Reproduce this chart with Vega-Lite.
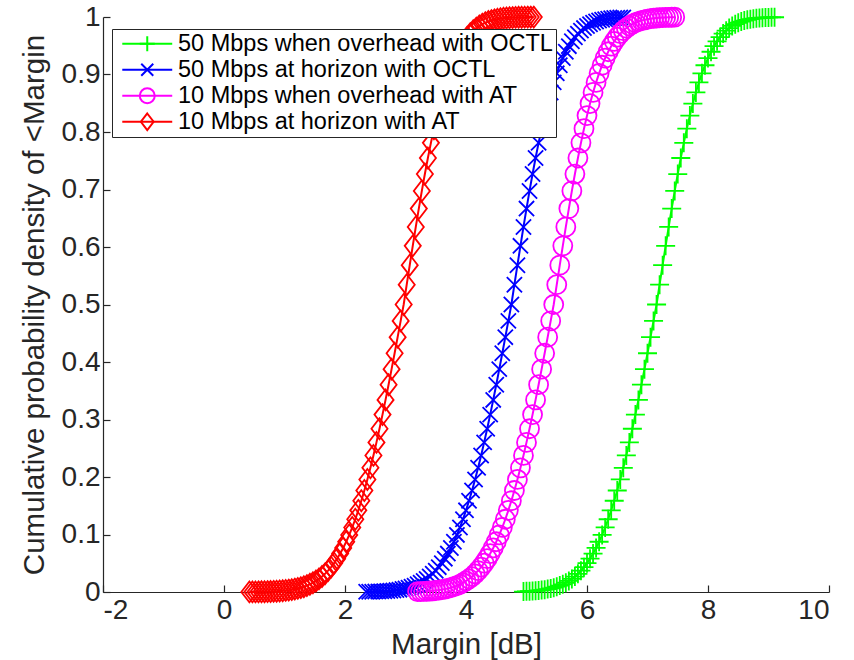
{
"$schema":"https://vega.github.io/schema/vega-lite/v6.json",
"width":726,"height":575,
"autosize":"none",
"padding":{"left":103,"top":17,"right":25,"bottom":68},
"background":"white",
"config":{
 "view":{"stroke":null},
 "axis":{"domainColor":"#262626","tickColor":"#262626","labelColor":"#262626","titleColor":"#262626","labelFont":"Liberation Sans","titleFont":"Liberation Sans","labelFontSize":28,"titleFontSize":29.5,"titleFontWeight":"normal","grid":false,"tickSize":-7,"domainWidth":1.2,"tickWidth":1.2}
},
"data":{"values":[
{"s":"g","x":4.95,"y":0.0008},{"s":"g","x":5.0,"y":0.0011},{"s":"g","x":5.05,"y":0.0013},{"s":"g","x":5.1,"y":0.0017},{"s":"g","x":5.15,"y":0.0021},{"s":"g","x":5.2,"y":0.0027},{"s":"g","x":5.25,"y":0.0033},{"s":"g","x":5.3,"y":0.0041},{"s":"g","x":5.35,"y":0.0051},{"s":"g","x":5.4,"y":0.0062},{"s":"g","x":5.45,"y":0.0076},{"s":"g","x":5.5,"y":0.0092},{"s":"g","x":5.55,"y":0.0111},{"s":"g","x":5.6,"y":0.0134},{"s":"g","x":5.65,"y":0.0161},{"s":"g","x":5.7,"y":0.0192},{"s":"g","x":5.75,"y":0.0228},{"s":"g","x":5.8,"y":0.0269},{"s":"g","x":5.85,"y":0.0316},{"s":"g","x":5.9,"y":0.0371},{"s":"g","x":5.95,"y":0.0432},{"s":"g","x":6.0,"y":0.0502},{"s":"g","x":6.05,"y":0.058},{"s":"g","x":6.1,"y":0.0668},{"s":"g","x":6.15,"y":0.0766},{"s":"g","x":6.2,"y":0.0874},{"s":"g","x":6.25,"y":0.0993},{"s":"g","x":6.3,"y":0.1123},{"s":"g","x":6.35,"y":0.1265},{"s":"g","x":6.4,"y":0.142},{"s":"g","x":6.45,"y":0.1587},{"s":"g","x":6.5,"y":0.1765},{"s":"g","x":6.55,"y":0.1957},{"s":"g","x":6.6,"y":0.216},{"s":"g","x":6.65,"y":0.2375},{"s":"g","x":6.7,"y":0.2602},{"s":"g","x":6.75,"y":0.2839},{"s":"g","x":6.8,"y":0.3085},{"s":"g","x":6.85,"y":0.3341},{"s":"g","x":6.9,"y":0.3605},{"s":"g","x":6.95,"y":0.3876},{"s":"g","x":7.0,"y":0.4152},{"s":"g","x":7.05,"y":0.4432},{"s":"g","x":7.1,"y":0.4715},{"s":"g","x":7.15,"y":0.5},{"s":"g","x":7.2,"y":0.5344},{"s":"g","x":7.25,"y":0.5684},{"s":"g","x":7.3,"y":0.602},{"s":"g","x":7.35,"y":0.6349},{"s":"g","x":7.4,"y":0.6668},{"s":"g","x":7.45,"y":0.6975},{"s":"g","x":7.5,"y":0.7269},{"s":"g","x":7.55,"y":0.7548},{"s":"g","x":7.6,"y":0.7811},{"s":"g","x":7.65,"y":0.8057},{"s":"g","x":7.7,"y":0.8285},{"s":"g","x":7.75,"y":0.8495},{"s":"g","x":7.8,"y":0.8688},{"s":"g","x":7.85,"y":0.8863},{"s":"g","x":7.9,"y":0.902},{"s":"g","x":7.95,"y":0.9161},{"s":"g","x":8.0,"y":0.9286},{"s":"g","x":8.05,"y":0.9396},{"s":"g","x":8.1,"y":0.9493},{"s":"g","x":8.15,"y":0.9577},{"s":"g","x":8.2,"y":0.9649},{"s":"g","x":8.25,"y":0.9711},{"s":"g","x":8.3,"y":0.9763},{"s":"g","x":8.35,"y":0.9807},{"s":"g","x":8.4,"y":0.9844},{"s":"g","x":8.45,"y":0.9875},{"s":"g","x":8.5,"y":0.99},{"s":"g","x":8.55,"y":0.9921},{"s":"g","x":8.6,"y":0.9938},{"s":"g","x":8.65,"y":0.9951},{"s":"g","x":8.7,"y":0.9962},{"s":"g","x":8.75,"y":0.9971},{"s":"g","x":8.8,"y":0.9978},{"s":"g","x":8.85,"y":0.9983},{"s":"g","x":8.9,"y":0.9987},{"s":"g","x":8.95,"y":0.999},{"s":"g","x":9.0,"y":0.9993},{"s":"g","x":9.05,"y":0.9995},{"s":"g","x":9.1,"y":0.9996},
{"s":"b","x":2.35,"y":0.0003},{"s":"b","x":2.4,"y":0.0004},{"s":"b","x":2.45,"y":0.0005},{"s":"b","x":2.5,"y":0.0007},{"s":"b","x":2.55,"y":0.0008},{"s":"b","x":2.6,"y":0.0011},{"s":"b","x":2.65,"y":0.0013},{"s":"b","x":2.7,"y":0.0017},{"s":"b","x":2.75,"y":0.0021},{"s":"b","x":2.8,"y":0.0027},{"s":"b","x":2.85,"y":0.0033},{"s":"b","x":2.9,"y":0.0041},{"s":"b","x":2.95,"y":0.0051},{"s":"b","x":3.0,"y":0.0062},{"s":"b","x":3.05,"y":0.0076},{"s":"b","x":3.1,"y":0.0092},{"s":"b","x":3.15,"y":0.0111},{"s":"b","x":3.2,"y":0.0134},{"s":"b","x":3.25,"y":0.0161},{"s":"b","x":3.3,"y":0.0192},{"s":"b","x":3.35,"y":0.0228},{"s":"b","x":3.4,"y":0.0269},{"s":"b","x":3.45,"y":0.0316},{"s":"b","x":3.5,"y":0.0371},{"s":"b","x":3.55,"y":0.0432},{"s":"b","x":3.6,"y":0.0502},{"s":"b","x":3.65,"y":0.058},{"s":"b","x":3.7,"y":0.0668},{"s":"b","x":3.75,"y":0.0766},{"s":"b","x":3.8,"y":0.0874},{"s":"b","x":3.85,"y":0.0993},{"s":"b","x":3.9,"y":0.1123},{"s":"b","x":3.95,"y":0.1265},{"s":"b","x":4.0,"y":0.142},{"s":"b","x":4.05,"y":0.1587},{"s":"b","x":4.1,"y":0.1765},{"s":"b","x":4.15,"y":0.1957},{"s":"b","x":4.2,"y":0.216},{"s":"b","x":4.25,"y":0.2375},{"s":"b","x":4.3,"y":0.2602},{"s":"b","x":4.35,"y":0.2839},{"s":"b","x":4.4,"y":0.3085},{"s":"b","x":4.45,"y":0.3341},{"s":"b","x":4.5,"y":0.3605},{"s":"b","x":4.55,"y":0.3876},{"s":"b","x":4.6,"y":0.4152},{"s":"b","x":4.65,"y":0.4432},{"s":"b","x":4.7,"y":0.4715},{"s":"b","x":4.75,"y":0.5},{"s":"b","x":4.8,"y":0.5344},{"s":"b","x":4.85,"y":0.5684},{"s":"b","x":4.9,"y":0.602},{"s":"b","x":4.95,"y":0.6349},{"s":"b","x":5.0,"y":0.6668},{"s":"b","x":5.05,"y":0.6975},{"s":"b","x":5.1,"y":0.7269},{"s":"b","x":5.15,"y":0.7548},{"s":"b","x":5.2,"y":0.7811},{"s":"b","x":5.25,"y":0.8057},{"s":"b","x":5.3,"y":0.8285},{"s":"b","x":5.35,"y":0.8495},{"s":"b","x":5.4,"y":0.8688},{"s":"b","x":5.45,"y":0.8863},{"s":"b","x":5.5,"y":0.902},{"s":"b","x":5.55,"y":0.9161},{"s":"b","x":5.6,"y":0.9286},{"s":"b","x":5.65,"y":0.9396},{"s":"b","x":5.7,"y":0.9493},{"s":"b","x":5.75,"y":0.9577},{"s":"b","x":5.8,"y":0.9649},{"s":"b","x":5.85,"y":0.9711},{"s":"b","x":5.9,"y":0.9763},{"s":"b","x":5.95,"y":0.9807},{"s":"b","x":6.0,"y":0.9844},{"s":"b","x":6.05,"y":0.9875},{"s":"b","x":6.1,"y":0.99},{"s":"b","x":6.15,"y":0.9921},{"s":"b","x":6.2,"y":0.9938},{"s":"b","x":6.25,"y":0.9951},{"s":"b","x":6.3,"y":0.9962},{"s":"b","x":6.35,"y":0.9971},{"s":"b","x":6.4,"y":0.9978},{"s":"b","x":6.45,"y":0.9983},{"s":"b","x":6.5,"y":0.9987},{"s":"b","x":6.55,"y":0.999},{"s":"b","x":6.6,"y":0.9993},
{"s":"m","x":3.2,"y":0.0007},{"s":"m","x":3.25,"y":0.0008},{"s":"m","x":3.3,"y":0.0011},{"s":"m","x":3.35,"y":0.0013},{"s":"m","x":3.4,"y":0.0017},{"s":"m","x":3.45,"y":0.0021},{"s":"m","x":3.5,"y":0.0027},{"s":"m","x":3.55,"y":0.0033},{"s":"m","x":3.6,"y":0.0041},{"s":"m","x":3.65,"y":0.0051},{"s":"m","x":3.7,"y":0.0062},{"s":"m","x":3.75,"y":0.0076},{"s":"m","x":3.8,"y":0.0092},{"s":"m","x":3.85,"y":0.0111},{"s":"m","x":3.9,"y":0.0134},{"s":"m","x":3.95,"y":0.0161},{"s":"m","x":4.0,"y":0.0192},{"s":"m","x":4.05,"y":0.0228},{"s":"m","x":4.1,"y":0.0269},{"s":"m","x":4.15,"y":0.0316},{"s":"m","x":4.2,"y":0.0371},{"s":"m","x":4.25,"y":0.0432},{"s":"m","x":4.3,"y":0.0502},{"s":"m","x":4.35,"y":0.058},{"s":"m","x":4.4,"y":0.0668},{"s":"m","x":4.45,"y":0.0766},{"s":"m","x":4.5,"y":0.0874},{"s":"m","x":4.55,"y":0.0993},{"s":"m","x":4.6,"y":0.1123},{"s":"m","x":4.65,"y":0.1265},{"s":"m","x":4.7,"y":0.142},{"s":"m","x":4.75,"y":0.1587},{"s":"m","x":4.8,"y":0.1765},{"s":"m","x":4.85,"y":0.1957},{"s":"m","x":4.9,"y":0.216},{"s":"m","x":4.95,"y":0.2375},{"s":"m","x":5.0,"y":0.2602},{"s":"m","x":5.05,"y":0.2839},{"s":"m","x":5.1,"y":0.3085},{"s":"m","x":5.15,"y":0.3341},{"s":"m","x":5.2,"y":0.3605},{"s":"m","x":5.25,"y":0.3876},{"s":"m","x":5.3,"y":0.4152},{"s":"m","x":5.35,"y":0.4432},{"s":"m","x":5.4,"y":0.4715},{"s":"m","x":5.45,"y":0.5},{"s":"m","x":5.5,"y":0.5344},{"s":"m","x":5.55,"y":0.5684},{"s":"m","x":5.6,"y":0.602},{"s":"m","x":5.65,"y":0.6349},{"s":"m","x":5.7,"y":0.6668},{"s":"m","x":5.75,"y":0.6975},{"s":"m","x":5.8,"y":0.7269},{"s":"m","x":5.85,"y":0.7548},{"s":"m","x":5.9,"y":0.7811},{"s":"m","x":5.95,"y":0.8057},{"s":"m","x":6.0,"y":0.8285},{"s":"m","x":6.05,"y":0.8495},{"s":"m","x":6.1,"y":0.8688},{"s":"m","x":6.15,"y":0.8863},{"s":"m","x":6.2,"y":0.902},{"s":"m","x":6.25,"y":0.9161},{"s":"m","x":6.3,"y":0.9286},{"s":"m","x":6.35,"y":0.9396},{"s":"m","x":6.4,"y":0.9493},{"s":"m","x":6.45,"y":0.9577},{"s":"m","x":6.5,"y":0.9649},{"s":"m","x":6.55,"y":0.9711},{"s":"m","x":6.6,"y":0.9763},{"s":"m","x":6.65,"y":0.9807},{"s":"m","x":6.7,"y":0.9844},{"s":"m","x":6.75,"y":0.9875},{"s":"m","x":6.8,"y":0.99},{"s":"m","x":6.85,"y":0.9921},{"s":"m","x":6.9,"y":0.9938},{"s":"m","x":6.95,"y":0.9951},{"s":"m","x":7.0,"y":0.9962},{"s":"m","x":7.05,"y":0.9971},{"s":"m","x":7.1,"y":0.9978},{"s":"m","x":7.15,"y":0.9983},{"s":"m","x":7.2,"y":0.9987},{"s":"m","x":7.25,"y":0.999},{"s":"m","x":7.3,"y":0.9993},{"s":"m","x":7.35,"y":0.9995},{"s":"m","x":7.4,"y":0.9996},{"s":"m","x":7.45,"y":0.9997},
{"s":"r","x":0.42,"y":0.0001},{"s":"r","x":0.47,"y":0.0002},{"s":"r","x":0.52,"y":0.0002},{"s":"r","x":0.57,"y":0.0003},{"s":"r","x":0.62,"y":0.0004},{"s":"r","x":0.67,"y":0.0005},{"s":"r","x":0.72,"y":0.0007},{"s":"r","x":0.77,"y":0.0008},{"s":"r","x":0.82,"y":0.0011},{"s":"r","x":0.87,"y":0.0013},{"s":"r","x":0.92,"y":0.0017},{"s":"r","x":0.97,"y":0.0021},{"s":"r","x":1.02,"y":0.0027},{"s":"r","x":1.07,"y":0.0033},{"s":"r","x":1.12,"y":0.0041},{"s":"r","x":1.17,"y":0.0051},{"s":"r","x":1.22,"y":0.0062},{"s":"r","x":1.27,"y":0.0076},{"s":"r","x":1.32,"y":0.0092},{"s":"r","x":1.37,"y":0.0111},{"s":"r","x":1.42,"y":0.0134},{"s":"r","x":1.47,"y":0.0161},{"s":"r","x":1.52,"y":0.0192},{"s":"r","x":1.57,"y":0.0228},{"s":"r","x":1.62,"y":0.0269},{"s":"r","x":1.67,"y":0.0316},{"s":"r","x":1.72,"y":0.0371},{"s":"r","x":1.77,"y":0.0432},{"s":"r","x":1.82,"y":0.0502},{"s":"r","x":1.87,"y":0.058},{"s":"r","x":1.92,"y":0.0668},{"s":"r","x":1.97,"y":0.0766},{"s":"r","x":2.02,"y":0.0874},{"s":"r","x":2.07,"y":0.0993},{"s":"r","x":2.12,"y":0.1123},{"s":"r","x":2.17,"y":0.1265},{"s":"r","x":2.22,"y":0.142},{"s":"r","x":2.27,"y":0.1587},{"s":"r","x":2.32,"y":0.1765},{"s":"r","x":2.37,"y":0.1957},{"s":"r","x":2.42,"y":0.216},{"s":"r","x":2.47,"y":0.2375},{"s":"r","x":2.52,"y":0.2602},{"s":"r","x":2.57,"y":0.2839},{"s":"r","x":2.62,"y":0.3085},{"s":"r","x":2.67,"y":0.3341},{"s":"r","x":2.72,"y":0.3605},{"s":"r","x":2.77,"y":0.3876},{"s":"r","x":2.82,"y":0.4152},{"s":"r","x":2.87,"y":0.4432},{"s":"r","x":2.92,"y":0.4715},{"s":"r","x":2.97,"y":0.5},{"s":"r","x":3.02,"y":0.5344},{"s":"r","x":3.07,"y":0.5684},{"s":"r","x":3.12,"y":0.602},{"s":"r","x":3.17,"y":0.6349},{"s":"r","x":3.22,"y":0.6668},{"s":"r","x":3.27,"y":0.6975},{"s":"r","x":3.32,"y":0.7269},{"s":"r","x":3.37,"y":0.7548},{"s":"r","x":3.42,"y":0.7811},{"s":"r","x":3.47,"y":0.8057},{"s":"r","x":3.52,"y":0.8285},{"s":"r","x":3.57,"y":0.8495},{"s":"r","x":3.62,"y":0.8688},{"s":"r","x":3.67,"y":0.8863},{"s":"r","x":3.72,"y":0.902},{"s":"r","x":3.77,"y":0.9161},{"s":"r","x":3.82,"y":0.9286},{"s":"r","x":3.87,"y":0.9396},{"s":"r","x":3.92,"y":0.9493},{"s":"r","x":3.97,"y":0.9577},{"s":"r","x":4.02,"y":0.9649},{"s":"r","x":4.07,"y":0.9711},{"s":"r","x":4.12,"y":0.9763},{"s":"r","x":4.17,"y":0.9807},{"s":"r","x":4.22,"y":0.9844},{"s":"r","x":4.27,"y":0.9875},{"s":"r","x":4.32,"y":0.99},{"s":"r","x":4.37,"y":0.9921},{"s":"r","x":4.42,"y":0.9938},{"s":"r","x":4.47,"y":0.9951},{"s":"r","x":4.52,"y":0.9962},{"s":"r","x":4.57,"y":0.9971},{"s":"r","x":4.62,"y":0.9978},{"s":"r","x":4.67,"y":0.9983},{"s":"r","x":4.72,"y":0.9987},{"s":"r","x":4.77,"y":0.999},{"s":"r","x":4.82,"y":0.9993},{"s":"r","x":4.87,"y":0.9995},{"s":"r","x":4.92,"y":0.9996},{"s":"r","x":4.97,"y":0.9997},{"s":"r","x":5.02,"y":0.9998},{"s":"r","x":5.07,"y":0.9999},{"s":"r","x":5.12,"y":0.9999}
]},
"encoding":{
 "x":{"field":"x","type":"quantitative","scale":{"domain":[-2,10],"nice":false,"zero":false},"axis":{"values":[-2,0,2,4,6,8,10],"labelExpr":"toString(datum.value)","title":"Margin [dB]","labelPadding":11,"titlePadding":6}},
 "y":{"field":"y","type":"quantitative","scale":{"domain":[0,1],"nice":false},"axis":{"values":[0,0.1,0.2,0.3,0.4,0.5,0.6,0.7,0.8,0.9,1],"format":".1~f","title":"Cumulative probability density of <Margin","labelPadding":10,"titlePadding":12}}
},
"layer":[
 {"mark":{"type":"line","strokeWidth":2},
  "encoding":{"color":{"field":"s","type":"nominal","sort":null,"scale":{"range":["#00ff00","#0000ff","#ff00ff","#ff0000"]},
   "legend":{"title":null,"orient":"none","legendX":9,"legendY":12,"zindex":1,"fillColor":"white","strokeColor":"#262626","padding":3,"labelFont":"Liberation Sans","labelFontSize":23.5,"labelColor":"#000000","labelLimit":0,"symbolType":"M-3.33,0L3.33,0","symbolSize":225,"symbolStrokeWidth":2,"symbolOffset":20.5,"labelOffset":19,"rowPadding":1,
    "labelExpr":"datum.value==='g'?'50 Mbps when overhead with OCTL':datum.value==='b'?'50 Mbps at horizon with OCTL':datum.value==='m'?'10 Mbps when overhead with AT':'10 Mbps at horizon with AT'"}}}},
 {"mark":{"type":"point","filled":false,"strokeWidth":1.8,"size":361,"opacity":1},
  "encoding":{
   "stroke":{"field":"s","type":"nominal","scale":{"domain":["g","b","m","r"],"range":["#00ff00","#0000ff","#ff00ff","#ff0000"]},
    "legend":{"title":null,"orient":"none","legendX":9,"legendY":12,"zindex":2,"fillColor":"transparent","strokeColor":"transparent","padding":3,"labelFont":"Liberation Sans","labelFontSize":23.5,"labelColor":"transparent","labelLimit":0,"symbolSize":225,"symbolStrokeWidth":2,"symbolOffset":20.5,"labelOffset":19,"rowPadding":1,
     "labelExpr":"datum.value==='g'?'50 Mbps when overhead with OCTL':datum.value==='b'?'50 Mbps at horizon with OCTL':datum.value==='m'?'10 Mbps when overhead with AT':'10 Mbps at horizon with AT'"}},
   "shape":{"field":"s","type":"nominal","scale":{"domain":["g","b","m","r"],"range":["M-1,0L1,0M0,-1L0,1","M-0.8,-0.8L0.8,0.8M-0.8,0.8L0.8,-0.8","circle","M0,-1.1L0.85,0L0,1.1L-0.85,0Z"]},
    "legend":{"title":null,"orient":"none","legendX":9,"legendY":12,"zindex":2,"fillColor":"transparent","strokeColor":"transparent","padding":3,"labelFont":"Liberation Sans","labelFontSize":23.5,"labelColor":"transparent","labelLimit":0,"symbolSize":225,"symbolStrokeWidth":2,"symbolOffset":20.5,"labelOffset":19,"rowPadding":1,
     "labelExpr":"datum.value==='g'?'50 Mbps when overhead with OCTL':datum.value==='b'?'50 Mbps at horizon with OCTL':datum.value==='m'?'10 Mbps when overhead with AT':'10 Mbps at horizon with AT'"}}
  }}
]
}
